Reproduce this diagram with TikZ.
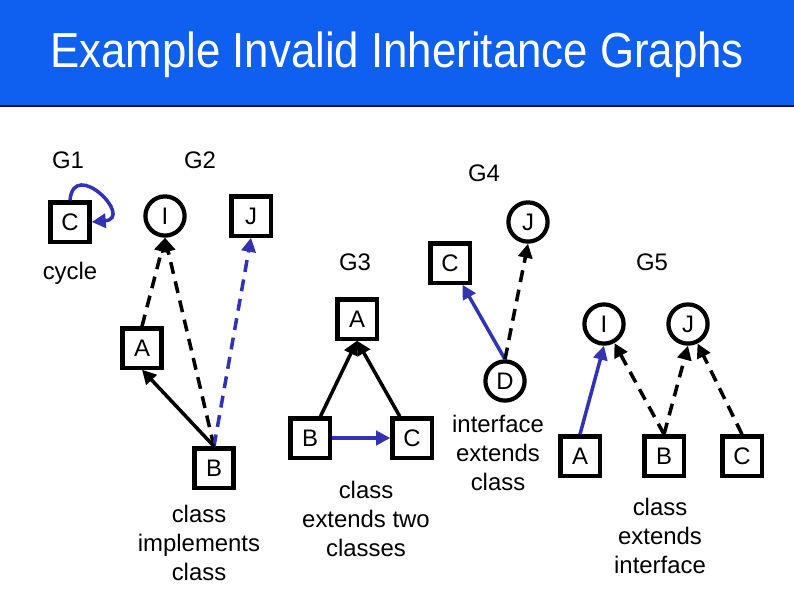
\documentclass[tikz,border=0pt]{standalone}
\usepackage{fontspec}
\setmainfont{Liberation Sans}
\newfontfamily\titlefont[FakeStretch=0.89]{Liberation Sans}
\usetikzlibrary{arrows.meta,positioning}
\definecolor{TitleBlue}{RGB}{16,96,240}
\definecolor{EdgeBlue} {RGB}{51,51,178}
\definecolor{RuleDark} {RGB}{20,20,50}
\tikzset{
  %% class box and interface circle
  clsbox/.style={rectangle,draw=black,line width=3pt,
                 minimum size=0.98cm,inner sep=0pt,
                 font=\fontsize{17}{20}\selectfont},
  ifcirc/.style={circle,draw=black,line width=3pt,
                 minimum size=0.98cm,inner sep=0pt,
                 font=\fontsize{17}{20}\selectfont},
  %% labels
  glabel/.style={font=\fontsize{17}{20}\selectfont},
  gnote/.style={font=\fontsize{17}{20.5}\selectfont,align=center},
  %% arrows
  extarr/.style={-{Triangle[length=10pt,width=10pt]},line width=2.5pt},
  implarr/.style={extarr,dash pattern=on 8.5pt off 5.5pt},
  badarr/.style={extarr,color=EdgeBlue},
  badimpl/.style={badarr,dash pattern=on 8.5pt off 5.5pt},
}
\begin{document}
\begin{tikzpicture}[x=0.025cm,y=-0.025cm]
    \useasboundingbox (0,0) rectangle (794,595);
    %% ── title bar ────────────────────────────────
    \fill[TitleBlue] (0,0) rectangle (794,105);
    \draw[RuleDark,line width=1.2pt] (0,106) -- (794,106);
    \node[text=white,font=\titlefont\fontsize{35}{40}\selectfont] (title)
      at (397,55) {Example Invalid Inheritance Graphs};

    %% ── graph labels ─────────────────────────────
    \node[glabel] (g1) at (68,160) {G1};
    \node[glabel] (g2) at (200,160) {G2};
    \node[glabel] (g3) at (355,262) {G3};
    \node[glabel] (g4) at (484,173) {G4};
    \node[glabel] (g5) at (652,262) {G5};

    %% ── G1: cycle ────────────────────────────────
    \node[clsbox] (c1) at (70,222) {C};
    \draw[badarr] (c1.north) to[out=85,in=5,looseness=3.6] (c1.east);
    \node[glabel] (cyc) at (70,273) {cycle};

    %% ── G2: class implements class ───────────────
    \node[ifcirc] (i2) at (165,216) {I};
    \node[clsbox] (j2) at (251,216) {J};
    \node[clsbox] (a2) at (142,348) {A};
    \node[clsbox] (b2) at (214,468) {B};

    \draw[implarr] (a2.north) -- (i2.south);
    \draw[implarr] (b2.north) -- (i2.south);
    \draw[badimpl] (b2.north) -- (j2.south);
    \draw[extarr]  (b2.north) -- (a2.south);

    \node[gnote] (n2) at (199,543) {class\\implements\\class};

    %% ── G3: class extends two classes ────────────
    \node[clsbox] (a3) at (357,319) {A};
    \node[clsbox] (b3) at (310,438) {B};
    \node[clsbox] (c3) at (412,438) {C};

    \draw[extarr] (b3) -- (a3.south);
    \draw[extarr] (c3) -- (a3.south);
    \draw[badarr] (b3) -- (c3);

    \node[gnote] (n3) at (366,519) {class\\extends two\\classes};

    %% ── G4: interface extends class ──────────────
    \node[ifcirc] (j4) at (528,222) {J};
    \node[clsbox] (c4) at (450,263) {C};
    \node[ifcirc] (d4) at (505,381) {D};

    \draw[badarr]  (d4.north) -- (c4);
    \draw[implarr] (d4.north) -- (j4.south);

    \node[gnote] (n4) at (498,453) {interface\\extends\\class};

    %% ── G5: class extends interface ──────────────
    \node[ifcirc] (i5) at (604,324) {I};
    \node[ifcirc] (j5) at (688,324) {J};
    \node[clsbox] (a5) at (580,456) {A};
    \node[clsbox] (b5) at (664,456) {B};
    \node[clsbox] (c5) at (742,456) {C};

    \draw[badarr]  (a5.north) -- (i5.south);
    \draw[implarr] (b5.north) -- (i5);
    \draw[implarr] (b5.north) -- (j5.south);
    \draw[implarr] (c5.north) -- (j5);

    \node[gnote] (n5) at (660,536) {class\\extends\\interface};
\end{tikzpicture}
\end{document}
